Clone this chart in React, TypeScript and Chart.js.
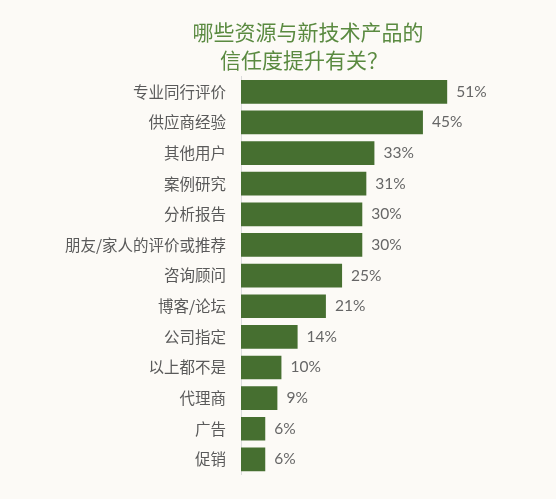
import React, { useEffect, useRef } from "react";
import { Chart, registerables } from "chart.js";

Chart.register(...registerables);

const categories = [
  "专业同行评价",
  "供应商经验",
  "其他用户",
  "案例研究",
  "分析报告",
  "朋友/家人的评价或推荐",
  "咨询顾问",
  "博客/论坛",
  "公司指定",
  "以上都不是",
  "代理商",
  "广告",
  "促销",
];
const values = [51, 45, 33, 31, 30, 30, 25, 21, 14, 10, 9, 6, 6];
const titleLines = ["哪些资源与新技术产品的", "信任度提升有关？"];

const BG = "#fcfaf6";
const BAR = "#466f30";
const TITLE = "#5a8a40";
const TEXT = "#5a5a5a";

const valueLabels = {
  id: "valueLabels",
  afterDatasetsDraw(chart: any) {
    const { ctx } = chart;
    const meta = chart.getDatasetMeta(0);
    ctx.save();
    ctx.fillStyle = "#666666";
    ctx.font = "15.5px Lato, 'Noto Sans', sans-serif";
    ctx.textAlign = "left";
    ctx.textBaseline = "middle";
    meta.data.forEach((bar: any, i: number) => {
      ctx.fillText(values[i] + "%", bar.x + 9, bar.y);
    });
    ctx.restore();
  },
};

const titlePlugin = {
  id: "customTitle",
  afterDraw(chart: any) {
    const { ctx } = chart;
    ctx.save();
    ctx.fillStyle = TITLE;
    ctx.font = "21px 'Noto Sans CJK SC', sans-serif";
    ctx.textAlign = "center";
    ctx.textBaseline = "middle";
    ctx.fillText(titleLines[0], 308, 32);
    ctx.fillText(titleLines[1], 304, 60);
    ctx.restore();
  },
};

const bgPlugin = {
  id: "bg",
  beforeDraw(chart: any) {
    const { ctx, width, height } = chart;
    ctx.save();
    ctx.fillStyle = BG;
    ctx.fillRect(0, 0, width, height);
    ctx.restore();
  },
};

export default function App() {
  const ref = useRef<HTMLCanvasElement>(null);
  useEffect(() => {
    const chart = new Chart(ref.current!, {
      type: "bar",
      data: {
        labels: categories,
        datasets: [
          {
            data: values,
            backgroundColor: BAR,
            borderWidth: 0,
            categoryPercentage: 0.774,
            barPercentage: 1,
          },
        ],
      },
      options: {
        indexAxis: "y",
        animation: false,
        responsive: true,
        maintainAspectRatio: false,
        layout: { padding: { left: 0, right: 32, top: 76.5, bottom: 19.5 } },
        plugins: {
          legend: { display: false },
          tooltip: { enabled: false },
          title: { display: false },
        },
        scales: {
          x: { display: false, min: 0, max: 70 },
          y: {
            afterFit(scale: any) {
              scale.width = 241;
            },
            grid: { display: true, drawOnChartArea: false, drawTicks: false },
            border: { display: true, color: "#dcdcdc", width: 1 },
            ticks: {
              color: TEXT,
              padding: 15,
              font: { size: 15.5, family: "'Noto Sans CJK SC', sans-serif" },
            },
          },
        },
      },
      plugins: [bgPlugin, valueLabels, titlePlugin],
    });
    return () => chart.destroy();
  }, []);
  return (
    <div style={{ position: "fixed", left: 0, top: 0, width: 556, height: 499, background: BG }}>
      <canvas ref={ref} />
    </div>
  );
}
